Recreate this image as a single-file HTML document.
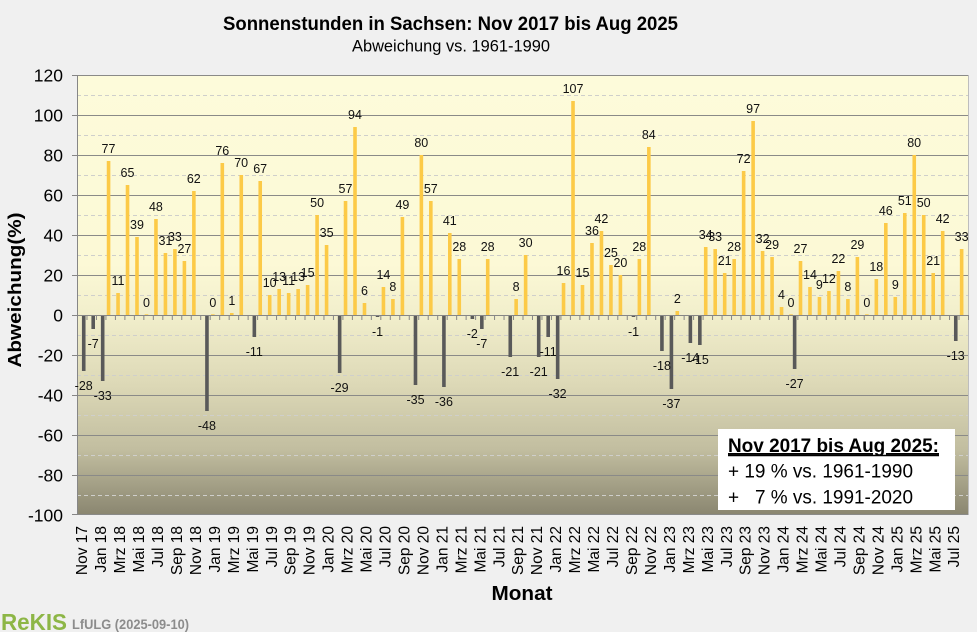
<!DOCTYPE html>
<html>
<head>
<meta charset="utf-8">
<style>
  html, body { margin:0; padding:0; background:#F0F0F0; }
  svg { display:block; }
  text { font-family: "Liberation Sans", Arial, sans-serif; }
</style>
</head>
<body>
<svg width="977" height="632" viewBox="0 0 977 632" xmlns="http://www.w3.org/2000/svg">
  <defs>
    <linearGradient id="bg" x1="0" y1="75" x2="0" y2="515" gradientUnits="userSpaceOnUse">
      <stop offset="0" stop-color="#FDFBDA"/>
      <stop offset="0.43" stop-color="#FCF9D6"/>
      <stop offset="0.55" stop-color="#F1EECB"/>
      <stop offset="0.70" stop-color="#DDD9B7"/>
      <stop offset="0.85" stop-color="#C2BEA0"/>
      <stop offset="1" stop-color="#8A8670"/>
    </linearGradient>
    <pattern id="tk" x="77" y="315" width="9.4787" height="5" patternUnits="userSpaceOnUse">
      <rect x="0" y="0" width="1" height="5" fill="#868686"/>
    </pattern>
  </defs>

  <rect x="0" y="0" width="977" height="632" fill="#F0F0F0"/>

  <!-- Title -->
  <text x="450.5" y="30" text-anchor="middle" font-size="19" font-weight="bold" textLength="455" lengthAdjust="spacingAndGlyphs" fill="#000">Sonnenstunden in Sachsen: Nov 2017 bis Aug 2025</text>
  <text x="451" y="51.5" text-anchor="middle" font-size="16.5" textLength="198" lengthAdjust="spacingAndGlyphs" fill="#000">Abweichung vs. 1961-1990</text>

  <!-- Plot background -->
  <rect x="77" y="75" width="891" height="440" fill="url(#bg)"/>

  <!-- Minor dashed gridlines -->
  <g stroke="#CFCFCB" stroke-width="1" stroke-dasharray="4,3">
    <line x1="77" y1="95.5" x2="968" y2="95.5"/>
    <line x1="77" y1="135.5" x2="968" y2="135.5"/>
    <line x1="77" y1="175.5" x2="968" y2="175.5"/>
    <line x1="77" y1="215.5" x2="968" y2="215.5"/>
    <line x1="77" y1="255.5" x2="968" y2="255.5"/>
    <line x1="77" y1="295.5" x2="968" y2="295.5"/>
    <line x1="77" y1="335.5" x2="968" y2="335.5"/>
    <line x1="77" y1="375.5" x2="968" y2="375.5"/>
    <line x1="77" y1="415.5" x2="968" y2="415.5"/>
    <line x1="77" y1="455.5" x2="968" y2="455.5"/>
    <line x1="77" y1="495.5" x2="968" y2="495.5"/>
  </g>
  <!-- Major gridlines -->
  <g stroke="#8A8A88" stroke-width="1">
    <line x1="77" y1="75.5" x2="968" y2="75.5"/>
    <line x1="77" y1="115.5" x2="968" y2="115.5"/>
    <line x1="77" y1="155.5" x2="968" y2="155.5"/>
    <line x1="77" y1="195.5" x2="968" y2="195.5"/>
    <line x1="77" y1="235.5" x2="968" y2="235.5"/>
    <line x1="77" y1="275.5" x2="968" y2="275.5"/>
    <line x1="77" y1="355.5" x2="968" y2="355.5"/>
    <line x1="77" y1="395.5" x2="968" y2="395.5"/>
    <line x1="77" y1="435.5" x2="968" y2="435.5"/>
    <line x1="77" y1="475.5" x2="968" y2="475.5"/>
    <line x1="77" y1="514.5" x2="968" y2="514.5"/>
  </g>
  <!-- right border -->
  <line x1="968.5" y1="75" x2="968.5" y2="515" stroke="#BDBDBD" stroke-width="1"/>

  <!-- Bars -->
  <g transform="translate(77,0) scale(9.4787,1)">
    <g fill="#FCCA47">
      <rect x="3.14" y="161" width="0.38" height="154"/>
      <rect x="4.14" y="293" width="0.38" height="22"/>
      <rect x="5.14" y="185" width="0.38" height="130"/>
      <rect x="6.14" y="237" width="0.38" height="78"/>
      <rect x="7.14" y="314.3" width="0.38" height="0.7"/>
      <rect x="8.14" y="219" width="0.38" height="96"/>
      <rect x="9.14" y="253" width="0.38" height="62"/>
      <rect x="10.14" y="249" width="0.38" height="66"/>
      <rect x="11.14" y="261" width="0.38" height="54"/>
      <rect x="12.14" y="191" width="0.38" height="124"/>
      <rect x="14.14" y="314.3" width="0.38" height="0.7"/>
      <rect x="15.14" y="163" width="0.38" height="152"/>
      <rect x="16.14" y="313" width="0.38" height="2"/>
      <rect x="17.14" y="175" width="0.38" height="140"/>
      <rect x="19.14" y="181" width="0.38" height="134"/>
      <rect x="20.14" y="295" width="0.38" height="20"/>
      <rect x="21.14" y="289" width="0.38" height="26"/>
      <rect x="22.14" y="293" width="0.38" height="22"/>
      <rect x="23.14" y="289" width="0.38" height="26"/>
      <rect x="24.14" y="285" width="0.38" height="30"/>
      <rect x="25.14" y="215" width="0.38" height="100"/>
      <rect x="26.14" y="245" width="0.38" height="70"/>
      <rect x="28.14" y="201" width="0.38" height="114"/>
      <rect x="29.14" y="127" width="0.38" height="188"/>
      <rect x="30.14" y="303" width="0.38" height="12"/>
      <rect x="32.14" y="287" width="0.38" height="28"/>
      <rect x="33.14" y="299" width="0.38" height="16"/>
      <rect x="34.14" y="217" width="0.38" height="98"/>
      <rect x="36.14" y="155" width="0.38" height="160"/>
      <rect x="37.14" y="201" width="0.38" height="114"/>
      <rect x="39.14" y="233" width="0.38" height="82"/>
      <rect x="40.14" y="259" width="0.38" height="56"/>
      <rect x="43.14" y="259" width="0.38" height="56"/>
      <rect x="46.14" y="299" width="0.38" height="16"/>
      <rect x="47.14" y="255" width="0.38" height="60"/>
      <rect x="51.14" y="283" width="0.38" height="32"/>
      <rect x="52.14" y="101" width="0.38" height="214"/>
      <rect x="53.14" y="285" width="0.38" height="30"/>
      <rect x="54.14" y="243" width="0.38" height="72"/>
      <rect x="55.14" y="231" width="0.38" height="84"/>
      <rect x="56.14" y="265" width="0.38" height="50"/>
      <rect x="57.14" y="275" width="0.38" height="40"/>
      <rect x="59.14" y="259" width="0.38" height="56"/>
      <rect x="60.14" y="147" width="0.38" height="168"/>
      <rect x="63.14" y="311" width="0.38" height="4"/>
      <rect x="66.14" y="247" width="0.38" height="68"/>
      <rect x="67.14" y="249" width="0.38" height="66"/>
      <rect x="68.14" y="273" width="0.38" height="42"/>
      <rect x="69.14" y="259" width="0.38" height="56"/>
      <rect x="70.14" y="171" width="0.38" height="144"/>
      <rect x="71.14" y="121" width="0.38" height="194"/>
      <rect x="72.14" y="251" width="0.38" height="64"/>
      <rect x="73.14" y="257" width="0.38" height="58"/>
      <rect x="74.14" y="307" width="0.38" height="8"/>
      <rect x="75.14" y="314.3" width="0.38" height="0.7"/>
      <rect x="76.14" y="261" width="0.38" height="54"/>
      <rect x="77.14" y="287" width="0.38" height="28"/>
      <rect x="78.14" y="297" width="0.38" height="18"/>
      <rect x="79.14" y="291" width="0.38" height="24"/>
      <rect x="80.14" y="271" width="0.38" height="44"/>
      <rect x="81.14" y="299" width="0.38" height="16"/>
      <rect x="82.14" y="257" width="0.38" height="58"/>
      <rect x="83.14" y="314.3" width="0.38" height="0.7"/>
      <rect x="84.14" y="279" width="0.38" height="36"/>
      <rect x="85.14" y="223" width="0.38" height="92"/>
      <rect x="86.14" y="297" width="0.38" height="18"/>
      <rect x="87.14" y="213" width="0.38" height="102"/>
      <rect x="88.14" y="155" width="0.38" height="160"/>
      <rect x="89.14" y="215" width="0.38" height="100"/>
      <rect x="90.14" y="273" width="0.38" height="42"/>
      <rect x="91.14" y="231" width="0.38" height="84"/>
      <rect x="93.14" y="249" width="0.38" height="66"/>
    </g>
    <g fill="#595959">
      <rect x="0.52" y="315" width="0.38" height="56"/>
      <rect x="1.52" y="315" width="0.38" height="14"/>
      <rect x="2.52" y="315" width="0.38" height="66"/>
      <rect x="13.52" y="315" width="0.38" height="96"/>
      <rect x="18.52" y="315" width="0.38" height="22"/>
      <rect x="27.52" y="315" width="0.38" height="58"/>
      <rect x="31.52" y="315" width="0.38" height="2"/>
      <rect x="35.52" y="315" width="0.38" height="70"/>
      <rect x="38.52" y="315" width="0.38" height="72"/>
      <rect x="41.52" y="315" width="0.38" height="4"/>
      <rect x="42.52" y="315" width="0.38" height="14"/>
      <rect x="45.52" y="315" width="0.38" height="42"/>
      <rect x="48.52" y="315" width="0.38" height="42"/>
      <rect x="49.52" y="315" width="0.38" height="22"/>
      <rect x="50.52" y="315" width="0.38" height="64"/>
      <rect x="58.52" y="315" width="0.38" height="2"/>
      <rect x="61.52" y="315" width="0.38" height="36"/>
      <rect x="62.52" y="315" width="0.38" height="74"/>
      <rect x="64.52" y="315" width="0.38" height="28"/>
      <rect x="65.52" y="315" width="0.38" height="30"/>
      <rect x="75.52" y="315" width="0.38" height="54"/>
      <rect x="92.52" y="315" width="0.38" height="26"/>
    </g>
  </g>

  <!-- zero axis and ticks -->
  <line x1="77" y1="315.5" x2="968" y2="315.5" stroke="#868686" stroke-width="1"/>
  <rect x="77" y="315" width="892" height="5" fill="url(#tk)"/>

  <!-- Y axis -->
  <line x1="77.5" y1="75" x2="77.5" y2="515" stroke="#868686" stroke-width="1"/>
  <g stroke="#868686" stroke-width="1">
    <line x1="72" y1="75.5" x2="77" y2="75.5"/>
    <line x1="72" y1="115.5" x2="77" y2="115.5"/>
    <line x1="72" y1="155.5" x2="77" y2="155.5"/>
    <line x1="72" y1="195.5" x2="77" y2="195.5"/>
    <line x1="72" y1="235.5" x2="77" y2="235.5"/>
    <line x1="72" y1="275.5" x2="77" y2="275.5"/>
    <line x1="72" y1="315.5" x2="77" y2="315.5"/>
    <line x1="72" y1="355.5" x2="77" y2="355.5"/>
    <line x1="72" y1="395.5" x2="77" y2="395.5"/>
    <line x1="72" y1="435.5" x2="77" y2="435.5"/>
    <line x1="72" y1="475.5" x2="77" y2="475.5"/>
    <line x1="72" y1="514.5" x2="77" y2="514.5"/>
  </g>
  <g font-size="17.5" text-anchor="end" fill="#000">
    <text x="63" y="81.5">120</text>
    <text x="63" y="121.5">100</text>
    <text x="63" y="161.5">80</text>
    <text x="63" y="201.5">60</text>
    <text x="63" y="241.5">40</text>
    <text x="63" y="281.5">20</text>
    <text x="63" y="321.5">0</text>
    <text x="63" y="361.5">-20</text>
    <text x="63" y="401.5">-40</text>
    <text x="63" y="441.5">-60</text>
    <text x="63" y="481.5">-80</text>
    <text x="63" y="521.5">-100</text>
  </g>
  <text transform="translate(21,290) rotate(-90)" text-anchor="middle" font-size="18" font-weight="bold" textLength="155" lengthAdjust="spacingAndGlyphs" fill="#000">Abweichung(%)</text>

  <!-- Data labels -->
  <g font-size="12.5" text-anchor="middle" fill="#111">
    <text x="83.7" y="390">-28</text>
    <text x="93.2" y="348">-7</text>
    <text x="102.7" y="400">-33</text>
    <text x="108.5" y="153">77</text>
    <text x="118.0" y="285">11</text>
    <text x="127.5" y="177">65</text>
    <text x="137.0" y="229">39</text>
    <text x="146.5" y="307">0</text>
    <text x="155.9" y="211">48</text>
    <text x="165.4" y="245">31</text>
    <text x="174.9" y="241">33</text>
    <text x="184.4" y="253">27</text>
    <text x="193.8" y="183">62</text>
    <text x="206.9" y="430">-48</text>
    <text x="212.8" y="307">0</text>
    <text x="222.3" y="155">76</text>
    <text x="231.8" y="305">1</text>
    <text x="241.2" y="167">70</text>
    <text x="254.3" y="356">-11</text>
    <text x="260.2" y="173">67</text>
    <text x="269.7" y="287">10</text>
    <text x="279.2" y="281">13</text>
    <text x="288.6" y="285">11</text>
    <text x="298.1" y="281">13</text>
    <text x="307.6" y="277">15</text>
    <text x="317.1" y="207">50</text>
    <text x="326.6" y="237">35</text>
    <text x="339.6" y="392">-29</text>
    <text x="345.5" y="193">57</text>
    <text x="355.0" y="119">94</text>
    <text x="364.5" y="295">6</text>
    <text x="377.5" y="336">-1</text>
    <text x="383.4" y="279">14</text>
    <text x="392.9" y="291">8</text>
    <text x="402.4" y="209">49</text>
    <text x="415.5" y="404">-35</text>
    <text x="421.3" y="147">80</text>
    <text x="430.8" y="193">57</text>
    <text x="443.9" y="406">-36</text>
    <text x="449.8" y="225">41</text>
    <text x="459.3" y="251">28</text>
    <text x="472.3" y="338">-2</text>
    <text x="481.8" y="348">-7</text>
    <text x="487.7" y="251">28</text>
    <text x="510.2" y="376">-21</text>
    <text x="516.1" y="291">8</text>
    <text x="525.6" y="247">30</text>
    <text x="538.7" y="376">-21</text>
    <text x="548.2" y="356">-11</text>
    <text x="557.6" y="398">-32</text>
    <text x="563.5" y="275">16</text>
    <text x="573.0" y="93">107</text>
    <text x="582.5" y="277">15</text>
    <text x="592.0" y="235">36</text>
    <text x="601.4" y="223">42</text>
    <text x="610.9" y="257">25</text>
    <text x="620.4" y="267">20</text>
    <text x="633.5" y="336">-1</text>
    <text x="639.3" y="251">28</text>
    <text x="648.8" y="139">84</text>
    <text x="661.9" y="370">-18</text>
    <text x="671.4" y="408">-37</text>
    <text x="677.3" y="303">2</text>
    <text x="690.3" y="362">-14</text>
    <text x="699.8" y="364">-15</text>
    <text x="705.7" y="239">34</text>
    <text x="715.2" y="241">33</text>
    <text x="724.7" y="265">21</text>
    <text x="734.1" y="251">28</text>
    <text x="743.6" y="163">72</text>
    <text x="753.1" y="113">97</text>
    <text x="762.6" y="243">32</text>
    <text x="772.1" y="249">29</text>
    <text x="781.5" y="299">4</text>
    <text x="791.0" y="307">0</text>
    <text x="794.6" y="388">-27</text>
    <text x="800.5" y="253">27</text>
    <text x="810.0" y="279">14</text>
    <text x="819.4" y="289">9</text>
    <text x="828.9" y="283">12</text>
    <text x="838.4" y="263">22</text>
    <text x="847.9" y="291">8</text>
    <text x="857.4" y="249">29</text>
    <text x="866.8" y="307">0</text>
    <text x="876.3" y="271">18</text>
    <text x="885.8" y="215">46</text>
    <text x="895.3" y="289">9</text>
    <text x="904.8" y="205">51</text>
    <text x="914.2" y="147">80</text>
    <text x="923.7" y="207">50</text>
    <text x="933.2" y="265">21</text>
    <text x="942.7" y="223">42</text>
    <text x="955.7" y="360">-13</text>
    <text x="961.6" y="241">33</text>
  </g>

  <!-- X axis labels -->
  <g font-size="15.5" text-anchor="end" fill="#000">
    <text transform="translate(87.2,526) rotate(-90)">Nov 17</text>
    <text transform="translate(106.2,526) rotate(-90)">Jan 18</text>
    <text transform="translate(125.1,526) rotate(-90)">Mrz 18</text>
    <text transform="translate(144.1,526) rotate(-90)">Mai 18</text>
    <text transform="translate(163.0,526) rotate(-90)">Jul 18</text>
    <text transform="translate(182.0,526) rotate(-90)">Sep 18</text>
    <text transform="translate(200.9,526) rotate(-90)">Nov 18</text>
    <text transform="translate(219.9,526) rotate(-90)">Jan 19</text>
    <text transform="translate(238.9,526) rotate(-90)">Mrz 19</text>
    <text transform="translate(257.8,526) rotate(-90)">Mai 19</text>
    <text transform="translate(276.8,526) rotate(-90)">Jul 19</text>
    <text transform="translate(295.7,526) rotate(-90)">Sep 19</text>
    <text transform="translate(314.7,526) rotate(-90)">Nov 19</text>
    <text transform="translate(333.7,526) rotate(-90)">Jan 20</text>
    <text transform="translate(352.6,526) rotate(-90)">Mrz 20</text>
    <text transform="translate(371.6,526) rotate(-90)">Mai 20</text>
    <text transform="translate(390.5,526) rotate(-90)">Jul 20</text>
    <text transform="translate(409.5,526) rotate(-90)">Sep 20</text>
    <text transform="translate(428.4,526) rotate(-90)">Nov 20</text>
    <text transform="translate(447.4,526) rotate(-90)">Jan 21</text>
    <text transform="translate(466.4,526) rotate(-90)">Mrz 21</text>
    <text transform="translate(485.3,526) rotate(-90)">Mai 21</text>
    <text transform="translate(504.3,526) rotate(-90)">Jul 21</text>
    <text transform="translate(523.2,526) rotate(-90)">Sep 21</text>
    <text transform="translate(542.2,526) rotate(-90)">Nov 21</text>
    <text transform="translate(561.1,526) rotate(-90)">Jan 22</text>
    <text transform="translate(580.1,526) rotate(-90)">Mrz 22</text>
    <text transform="translate(599.1,526) rotate(-90)">Mai 22</text>
    <text transform="translate(618.0,526) rotate(-90)">Jul 22</text>
    <text transform="translate(637.0,526) rotate(-90)">Sep 22</text>
    <text transform="translate(655.9,526) rotate(-90)">Nov 22</text>
    <text transform="translate(674.9,526) rotate(-90)">Jan 23</text>
    <text transform="translate(693.8,526) rotate(-90)">Mrz 23</text>
    <text transform="translate(712.8,526) rotate(-90)">Mai 23</text>
    <text transform="translate(731.8,526) rotate(-90)">Jul 23</text>
    <text transform="translate(750.7,526) rotate(-90)">Sep 23</text>
    <text transform="translate(769.7,526) rotate(-90)">Nov 23</text>
    <text transform="translate(788.6,526) rotate(-90)">Jan 24</text>
    <text transform="translate(807.6,526) rotate(-90)">Mrz 24</text>
    <text transform="translate(826.5,526) rotate(-90)">Mai 24</text>
    <text transform="translate(845.5,526) rotate(-90)">Jul 24</text>
    <text transform="translate(864.5,526) rotate(-90)">Sep 24</text>
    <text transform="translate(883.4,526) rotate(-90)">Nov 24</text>
    <text transform="translate(902.4,526) rotate(-90)">Jan 25</text>
    <text transform="translate(921.3,526) rotate(-90)">Mrz 25</text>
    <text transform="translate(940.3,526) rotate(-90)">Mai 25</text>
    <text transform="translate(959.2,526) rotate(-90)">Jul 25</text>
  </g>

  <text x="522" y="600" text-anchor="middle" font-size="20" font-weight="bold" textLength="61" lengthAdjust="spacingAndGlyphs" fill="#000">Monat</text>

  <!-- Info box -->
  <rect x="718" y="429" width="237" height="81" fill="#FFFFFF"/>
  <text x="728" y="452" font-size="19" font-weight="bold" text-decoration="underline" textLength="211" lengthAdjust="spacingAndGlyphs" fill="#000">Nov 2017 bis Aug 2025:</text>
  <line x1="728" y1="455.5" x2="939" y2="455.5" stroke="#000" stroke-width="1.6"/>
  <text x="728" y="477.5" font-size="19" textLength="185" lengthAdjust="spacingAndGlyphs" fill="#000">+ 19 % vs. 1961-1990</text>
  <text x="728" y="503.5" font-size="19" fill="#000">+</text>
  <text x="755" y="503.5" font-size="19" textLength="158" lengthAdjust="spacingAndGlyphs" fill="#000">7 % vs. 1991-2020</text>

  <!-- Footer -->
  <text x="1" y="630" font-size="23" font-weight="bold" textLength="66" lengthAdjust="spacingAndGlyphs" fill="#8DB646">ReKIS</text>
  <text x="72" y="629" font-size="14" font-weight="bold" textLength="117" lengthAdjust="spacingAndGlyphs" fill="#8C8C8C">LfULG (2025-09-10)</text>
</svg>
</body>
</html>
